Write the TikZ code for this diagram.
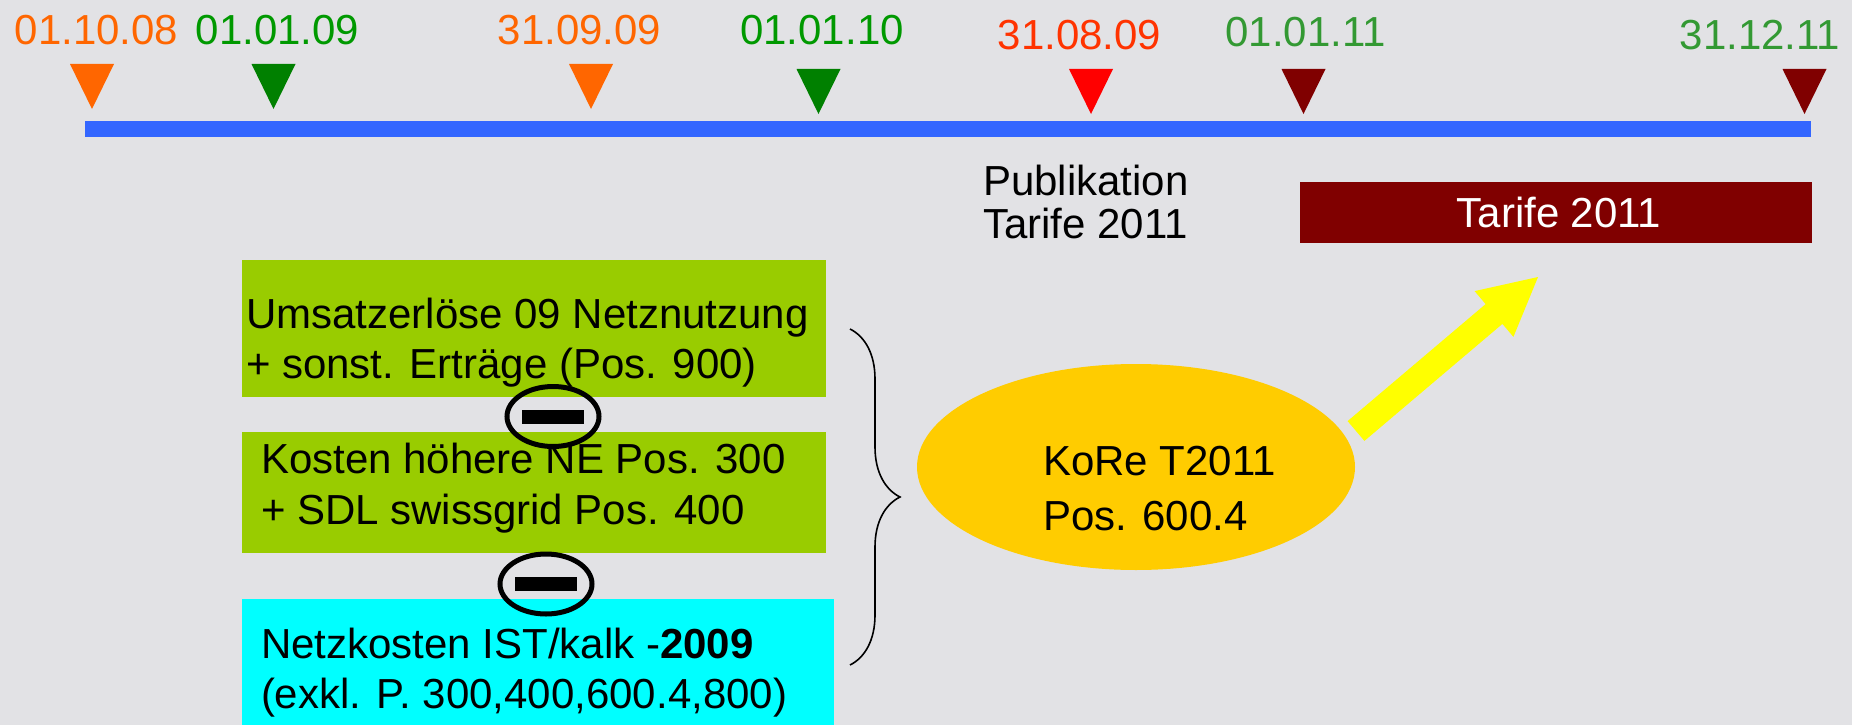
\documentclass[tikz,border=0pt]{standalone}
\usepackage{fontspec}
\setmainfont{Liberation Sans}
\usetikzlibrary{shapes.geometric,decorations.pathreplacing}
\definecolor{bgc}{RGB}{226,226,229}
\definecolor{tlblue}{RGB}{51,102,255}
\definecolor{orng}{RGB}{255,102,0}
\definecolor{grn}{RGB}{0,128,0}
\definecolor{grntxt}{RGB}{0,153,0}
\definecolor{grnlt}{RGB}{51,153,51}
\definecolor{redtxt}{RGB}{255,51,0}
\definecolor{dred}{RGB}{128,0,0}
\definecolor{lime}{RGB}{153,204,0}
\definecolor{cyanb}{RGB}{0,255,255}
\definecolor{gold}{RGB}{255,204,0}
\definecolor{yel}{RGB}{255,255,0}
\tikzset{
  every node/.style={inner sep=0pt, outer sep=0pt, font=\fontsize{42}{50}\selectfont},
  lbl/.style={anchor=base},
  txt/.style={anchor=base west},
  gbox/.style={fill=lime, minimum width=584pt},
  minuscirc/.style={ellipse, draw=black, line width=5pt, minimum width=92pt, minimum height=60pt},
  minusbar/.style={fill=black, minimum width=62pt, minimum height=14pt},
}
\newcommand{\marker}[4]{\fill[#1] (#2-22,#3) -- (#2+22,#3) -- (#2,#4) -- cycle;}
\begin{document}
\begin{tikzpicture}[x=1pt,y=-1pt]
\fill[bgc] (0,0) rectangle (1852,725);
\useasboundingbox (0,0) rectangle (1852,725);
% timeline
\fill[tlblue] (85,121) rectangle (1811,137);
\marker{orng}{92}{64}{109}
\marker{grn}{273.5}{64}{109}
\marker{orng}{591}{64}{109}
\marker{grn}{818.5}{69}{114}
\marker{red}{1091}{69}{114}
\marker{dred}{1303.5}{69}{114}
\marker{dred}{1804.5}{69}{114}
\node[lbl, text=orng] (d1) at (96.5,45) {01.10.08};
\node[lbl, text=grntxt] (d2) at (277.5,45) {01.01.09};
\node[lbl, text=orng] (d3) at (579.5,45) {31.09.09};
\node[lbl, text=grntxt] (d4) at (822,45) {01.01.10};
\node[lbl, text=redtxt] (d5) at (1079.5,50) {31.08.09};
\node[lbl, text=grnlt] (d6) at (1305.5,47) {01.01.11};
\node[lbl, text=grnlt] (d7) at (1760,50) {31.12.11};
% publication
\node[txt] (pub1) at (983,195) {Publikation};
\node[txt] (pub2) at (983,238) {Tarife 2011};
% tarife box
\node[fill=dred, minimum width=512pt, minimum height=61pt] (tbox) at (1556,212.5) {};
\node[lbl, text=white] (ttxt) at (1559,227) {Tarife 2011};
% boxes
\node[gbox, minimum height=137pt] (b1) at (534,328.5) {};
\node[gbox, minimum height=121pt] (b2) at (534,492.5) {};
\node[fill=cyanb, minimum width=592pt, minimum height=131pt] (b3) at (538,664.5) {};
\node[txt] (t1a) at (246,328) {Umsatzerlöse 09 Netznutzung};
\node[txt] (t1b) at (246,378) {+ sonst. Erträge (Pos. 900)};
\node[txt] (t2a) at (261,473) {Kosten höhere NE Pos. 300};
\node[txt] (t2b) at (261,524) {+ SDL swissgrid Pos. 400};
\node[txt] (t3a) at (261,658) {Netzkosten IST/kalk -\textbf{2009}};
\node[txt] (t3b) at (261,708) {(exkl. P. 300,400,600.4,800)};
% minus signs
\node[minuscirc] (m1) at (553,416.5) {};
\node[minusbar] (m1bar) at (m1) {};
\node[minuscirc] (m2) at (546,584) {};
\node[minusbar] (m2bar) at (545.5,584) {};
% brace
\coordinate (brtop) at (850,329);
\coordinate (brbot) at (850,665);
\draw[line width=1.6pt, decorate, decoration={brace, amplitude=50pt}] (brtop) -- (brbot);
% KoRe ellipse
\node[ellipse, fill=gold, minimum width=438pt, minimum height=206pt] (kore) at (1136,467) {};
\node[txt] (k1) at (1043,475) {KoRe T2011};
\node[txt] (k2) at (1043,530) {Pos. 600.4};
% yellow arrow
\fill[yel] (1347.6,421.1) -- (1485.6,304.1) -- (1474.6,291.1) -- (1538,277)
  -- (1513.4,336.9) -- (1502.4,323.9) -- (1364.4,440.9) -- cycle;
\end{tikzpicture}
\end{document}
